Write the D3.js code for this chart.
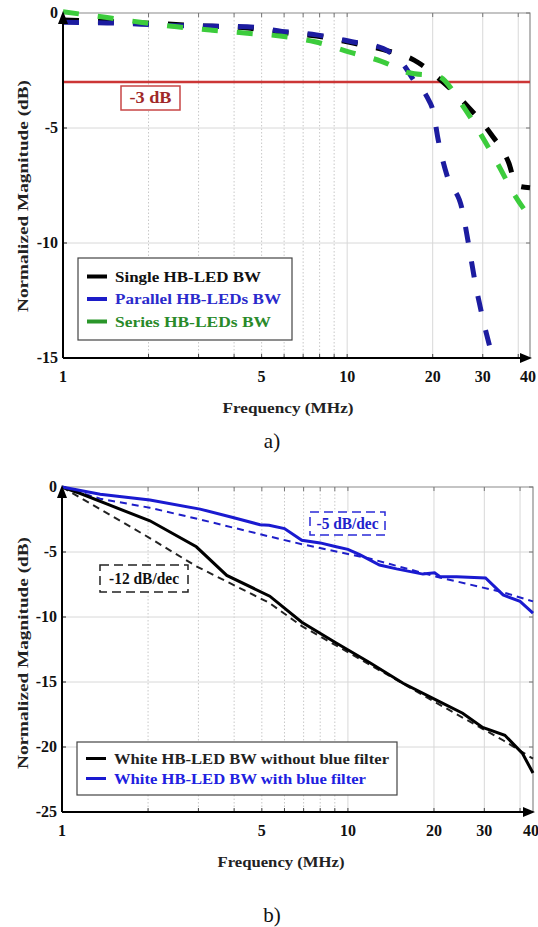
<!DOCTYPE html>
<html><head><meta charset="utf-8">
<script src="https://cdn.jsdelivr.net/npm/d3@7"></script>
<style>body{margin:0;background:#fff}svg{display:block}text{font-family:"Liberation Serif","Times New Roman",Times,Tinos,serif}</style>
</head><body>
<svg id="c" width="538" height="927"></svg>
<script>
// ---------- data ----------
const xTickLabels = [1, 5, 10, 20, 30, 40];
const minorGrid = [2, 3, 4, 5, 6, 7, 8, 9];
const majorGrid = [10, 20, 30, 40];
const yTicksA = [0, -5, -10, -15];
const yTicksB = [0, -5, -10, -15, -20, -25];

// (a) bandwidth curves
const singleF = [1, 1.5, 2.5, 3.35, 4.45, 5.9, 7.8, 10.4, 13.5, 17.2, 21.5, 26.5, 32, 37, 39.5, 44];
const singleV = [-0.3, -0.38, -0.5, -0.58, -0.65, -0.85, -1.0, -1.3, -1.6, -2.05, -2.95, -4.05, -5.25, -6.5, -7.5, -7.6];
const parallelF = [1, 1.43, 2.52, 3.35, 4.45, 5.9, 7.8, 10.4, 13.4, 16.0, 17.1, 19.1, 20.1, 20.9, 22.5, 25.4, 26.7, 28.2, 30.1, 31.9];
const parallelV = [-0.4, -0.43, -0.55, -0.57, -0.6, -0.8, -0.95, -1.25, -1.55, -2.35, -2.9, -3.65, -4.3, -5.5, -7.1, -8.55, -10.0, -11.7, -13.35, -14.6];
const seriesF = [1, 1.43, 1.87, 2.52, 3.35, 4.45, 5.8, 7.7, 10.2, 13.2, 16.5, 20.9, 25.4, 29.6, 34.0, 39.0, 44.8];
const seriesV = [0.05, -0.2, -0.4, -0.6, -0.75, -0.88, -1.0, -1.25, -1.7, -2.1, -2.6, -2.75, -4.0, -5.3, -6.6, -7.95, -9.0];
const ref3dB = -3;

// (b) white LED curves
const noFilterF = [1, 1.16, 1.47, 2.03, 2.95, 3.77, 5.33, 6.9, 9.1, 11.9, 15.6, 20.4, 25.2, 29.6, 35.4, 40.8, 44.4];
const noFilterV = [0, -0.5, -1.4, -2.6, -4.6, -6.8, -8.4, -10.4, -12.0, -13.5, -15.1, -16.4, -17.4, -18.5, -19.1, -20.5, -22.0];
const slope12F = [1, 2.0, 2.95, 5.3, 6.9, 10, 20, 35, 44.4];
const slope12V = [0, -3.85, -6.1, -8.9, -10.7, -12.7, -16.5, -19.5, -20.9];
const withFilterF = [1, 1.36, 2.03, 3.04, 3.96, 4.93, 5.3, 6.0, 6.9, 8.0, 9.1, 10, 11, 12.9, 14.8, 18.3, 20.1, 21, 24, 30.3, 34.9, 40, 44.4];
const withFilterV = [0, -0.55, -1.0, -1.7, -2.35, -2.9, -2.95, -3.2, -4.1, -4.3, -4.6, -4.8, -5.2, -6.0, -6.3, -6.7, -6.6, -6.9, -6.9, -7.0, -8.3, -8.8, -9.7];
const slope5F = [1, 1.36, 2.03, 3.04, 5.3, 6.9, 11.9, 20.4, 34.9, 44.4];
const slope5V = [0, -0.9, -1.6, -2.5, -3.8, -4.4, -5.5, -6.9, -8.1, -8.8];

const legendA = ["Single HB-LED BW", "Parallel HB-LEDs BW", "Series HB-LEDs BW"];
const legendB = ["White HB-LED BW without blue filter", "White HB-LED BW with blue filter"];

// ---------- drawing ----------
const svg = d3.select("#c");
const zip = (f, v) => f.map((d, i) => [d, v[i]]);

function frame(x, y, yTicks) {
  const g = svg.append("g");
  const [x0, x1] = x.range();
  const [yb, yt] = y.range();
  g.selectAll(".gmin").data(minorGrid).join("line")
    .attr("x1", d => x(d)).attr("x2", d => x(d)).attr("y1", yt).attr("y2", yb)
    .attr("stroke", "#c8c8c8").attr("stroke-width", 1).attr("stroke-dasharray", "1.5,2");
  g.selectAll(".gmaj").data(majorGrid).join("line")
    .attr("x1", d => x(d)).attr("x2", d => x(d)).attr("y1", yt).attr("y2", yb)
    .attr("stroke", "#d8d8d8").attr("stroke-width", 1);
  g.selectAll(".gh").data(yTicks.filter(d => d !== 0 && d !== y.domain()[0])).join("line")
    .attr("x1", x0).attr("x2", x1).attr("y1", d => y(d)).attr("y2", d => y(d))
    .attr("stroke", "#d8d8d8").attr("stroke-width", 1);
  g.append("path").attr("d", `M${x0},${yt}H${x1}V${yb}`).attr("fill", "none").attr("stroke", "#8a8a8a").attr("stroke-width", 1.2);
  const allX = minorGrid.concat(majorGrid);
  g.selectAll(".tt").data(allX).join("line")
    .attr("x1", d => x(d)).attr("x2", d => x(d)).attr("y1", yt).attr("y2", yt + 4).attr("stroke", "#777");
  g.selectAll(".tb").data(allX).join("line")
    .attr("x1", d => x(d)).attr("x2", d => x(d)).attr("y1", yb).attr("y2", yb - 4).attr("stroke", "#444");
  g.selectAll(".tr").data(yTicks).join("line")
    .attr("x1", x1).attr("x2", x1 - 4).attr("y1", d => y(d)).attr("y2", d => y(d)).attr("stroke", "#777");
  g.selectAll(".tl").data(yTicks).join("line")
    .attr("x1", x0).attr("x2", x0 + 4).attr("y1", d => y(d)).attr("y2", d => y(d)).attr("stroke", "#222");
  return g;
}

function axes(g, x, y, yTicks, opt) {
  const [x0, x1] = x.range();
  const [yb, yt] = y.range();
  g.append("line").attr("x1", x0).attr("x2", x1 - 4).attr("y1", yb).attr("y2", yb).attr("stroke", "#000").attr("stroke-width", 2);
  g.append("line").attr("x1", x0).attr("x2", x0).attr("y1", yb).attr("y2", yt + 6).attr("stroke", "#000").attr("stroke-width", 2);
  g.append("path").attr("d", `M${x1 + 2},${yb}L${x1 - 10},${yb - 5}L${x1 - 10},${yb + 5}Z`).attr("fill", "#000");
  g.append("path").attr("d", `M${x0},${yt - 2}L${x0 - 5},${yt + 11}L${x0 + 5},${yt + 11}Z`).attr("fill", "#000");
  g.selectAll(".xl").data(xTickLabels).join("text")
    .attr("x", d => d === 40 ? x1 - 2 : x(d)).attr("y", yb + 24)
    .attr("text-anchor", "middle").attr("font-weight", "bold").attr("font-size", 16).attr("fill", "#111")
    .text(d => d);
  g.selectAll(".yl").data(yTicks).join("text")
    .attr("x", x0 - 5).attr("y", d => y(d) + 5)
    .attr("text-anchor", "end").attr("font-weight", "bold").attr("font-size", 16).attr("fill", "#111")
    .text(d => d);
  g.append("text").attr("x", opt.xlabX).attr("y", yb + opt.xlabDy)
    .attr("text-anchor", "middle").attr("font-weight", "bold").attr("font-size", 15).attr("fill", "#222")
    .attr("textLength", opt.xlabW).attr("lengthAdjust", "spacingAndGlyphs")
    .text("Frequency (MHz)");
  g.append("text").attr("transform", `translate(28,${opt.ylabY}) rotate(-90)`)
    .attr("text-anchor", "middle").attr("font-weight", "bold").attr("font-size", 14).attr("fill", "#222")
    .attr("textLength", 232).attr("lengthAdjust", "spacingAndGlyphs")
    .text("Normalized Magnitude (dB)");
}

function legend(g, x0, y0, w, h, entries, colors, textColors, lw, rowH, lens) {
  g.append("rect").attr("x", x0).attr("y", y0).attr("width", w).attr("height", h)
    .attr("fill", "#fff").attr("stroke", "#444").attr("stroke-width", 1.2);
  entries.forEach((t, i) => {
    const yy = y0 + rowH * (i + 0.5) + (h - rowH * entries.length) / 2;
    g.append("line").attr("x1", x0 + 9).attr("x2", x0 + 29).attr("y1", yy).attr("y2", yy)
      .attr("stroke", colors[i]).attr("stroke-width", lw);
    g.append("text").attr("x", x0 + 37).attr("y", yy + 5)
      .attr("font-weight", "bold").attr("font-size", 15).attr("fill", textColors[i])
      .attr("textLength", lens[i]).attr("lengthAdjust", "spacingAndGlyphs").text(t);
  });
}

// ===== chart a =====
const xA = d3.scaleLog().domain([1, 44]).range([63, 530]);
const yA = d3.scaleLinear().domain([-15, 0]).range([358, 13]);
const optA = {xlabX: 288, xlabDy: 55, xlabW: 131, ylabY: 196};
const gA = frame(xA, yA, yTicksA);
const lineA = d3.line().x(d => xA(d[0])).y(d => yA(d[1])).curve(d3.curveMonotoneX);
gA.append("line").attr("x1", xA.range()[0]).attr("x2", xA.range()[1]).attr("y1", yA(ref3dB)).attr("y2", yA(ref3dB))
  .attr("stroke", "#cc3636").attr("stroke-width", 2.5);
const colA = ["#000000", "#1c1ca0", "#3ccc3c"];
[[singleF, singleV], [parallelF, parallelV], [seriesF, seriesV]].forEach(([f, v], i) => {
  gA.append("path").attr("d", lineA(zip(f, v))).attr("fill", "none")
    .attr("stroke", colA[i]).attr("stroke-width", 5).attr("stroke-dasharray", "16,19");
});
axes(gA, xA, yA, yTicksA, optA);
gA.append("rect").attr("x", 121).attr("y", 86).attr("width", 59).attr("height", 24)
  .attr("fill", "#fff").attr("stroke", "#c84646").attr("stroke-width", 1.5);
gA.append("text").attr("x", 150.5).attr("y", 103).attr("text-anchor", "middle")
  .attr("font-size", 16).attr("font-weight", "bold").attr("fill", "#a02828")
  .attr("textLength", 42).attr("lengthAdjust", "spacingAndGlyphs").text("-3 dB");
legend(gA, 78, 258, 214, 82, legendA, ["#000", "#1c1cc8", "#2a962a"], ["#111", "#2a2acc", "#2a8a2a"], 4, 22.5, [146, 166, 156]);
svg.append("text").attr("x", 272).attr("y", 448).attr("text-anchor", "middle").attr("font-size", 21).attr("fill", "#111").text("a)");

// ===== chart b =====
const xB = d3.scaleLog().domain([1, 44.4]).range([62, 533]);
const yB = d3.scaleLinear().domain([-25, 0]).range([812, 487]);
const optB = {xlabX: 281, xlabDy: 55, xlabW: 127, ylabY: 653};
const gB = frame(xB, yB, yTicksB);
const lineB = d3.line().x(d => xB(d[0])).y(d => yB(d[1]));
const seriesB = [
  {f: slope12F, v: slope12V, c: "#222", w: 2, dash: "7,5"},
  {f: slope5F, v: slope5V, c: "#1e1ec8", w: 2, dash: "7,5"},
  {f: noFilterF, v: noFilterV, c: "#000", w: 3, dash: null},
  {f: withFilterF, v: withFilterV, c: "#1a1ad0", w: 3, dash: null}
];
seriesB.forEach(s => {
  gB.append("path").attr("d", lineB(zip(s.f, s.v))).attr("fill", "none")
    .attr("stroke", s.c).attr("stroke-width", s.w).attr("stroke-dasharray", s.dash);
});
axes(gB, xB, yB, yTicksB, optB);
gB.append("rect").attr("x", 100).attr("y", 565).attr("width", 88).attr("height", 27)
  .attr("fill", "#fff").attr("stroke", "#222").attr("stroke-width", 1.5).attr("stroke-dasharray", "9,5");
gB.append("text").attr("x", 144).attr("y", 584).attr("text-anchor", "middle").attr("font-size", 16).attr("font-weight", "bold")
  .attr("fill", "#111").attr("textLength", 70).attr("lengthAdjust", "spacingAndGlyphs").text("-12 dB/dec");
gB.append("rect").attr("x", 310).attr("y", 512).attr("width", 75).attr("height", 23)
  .attr("fill", "#fff").attr("stroke", "#2a2ad8").attr("stroke-width", 1.5).attr("stroke-dasharray", "9,5");
gB.append("text").attr("x", 347.5).attr("y", 529).attr("text-anchor", "middle").attr("font-size", 16).attr("font-weight", "bold")
  .attr("fill", "#2222cc").attr("textLength", 62).attr("lengthAdjust", "spacingAndGlyphs").text("-5 dB/dec");
legend(gB, 77, 742, 320, 53, legendB, ["#000", "#1a1ad0"], ["#222", "#2020e0"], 3, 20, [275, 252]);
svg.append("text").attr("x", 272).attr("y", 922).attr("text-anchor", "middle").attr("font-size", 21).attr("fill", "#111").text("b)");
</script>
</body></html>
